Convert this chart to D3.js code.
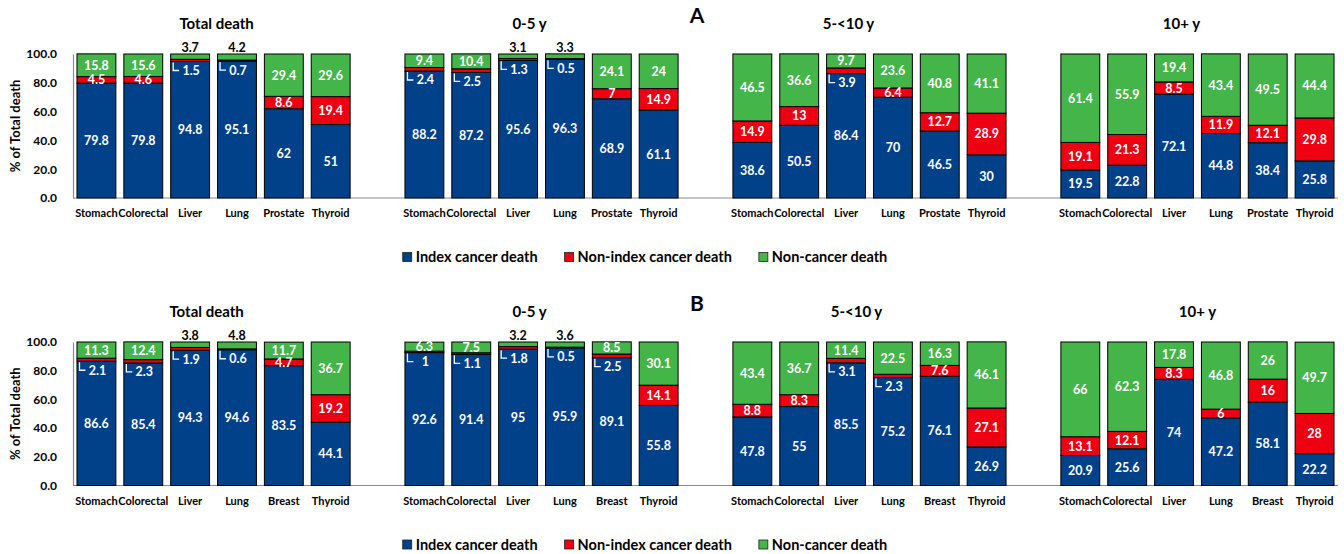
<!DOCTYPE html>
<html>
<head>
<meta charset="utf-8">
<script src="https://cdn.jsdelivr.net/npm/d3@7"></script>
<style>
  body { margin: 0; background: #fff; }
  text { font-family: Lato, "Open Sans", sans-serif; font-weight: bold; }
</style>
</head>
<body>
<svg id="chart" width="1344" height="554"></svg>
<script>
// Data
const groups = ["Total death", "0-5 y", "5-<10 y", "10+ y"];
const seriesNames = ["Index cancer death", "Non-index cancer death", "Non-cancer death"];
const cancersA = ["Stomach", "Colorectal", "Liver", "Lung", "Prostate", "Thyroid"];
const cancersB = ["Stomach", "Colorectal", "Liver", "Lung", "Breast", "Thyroid"];
const yTicks = [0, 20, 40, 60, 80, 100];

// panel A: one row per group, one value per cancer
const indexA     = [[79.8, 79.8, 94.8, 95.1, 62, 51], [88.2, 87.2, 95.6, 96.3, 68.9, 61.1], [38.6, 50.5, 86.4, 70, 46.5, 30], [19.5, 22.8, 72.1, 44.8, 38.4, 25.8]];
const nonIndexA  = [[4.5, 4.6, 1.5, 0.7, 8.6, 19.4], [2.4, 2.5, 1.3, 0.5, 7, 14.9], [14.9, 13, 3.9, 6.4, 12.7, 28.9], [19.1, 21.3, 8.5, 11.9, 12.1, 29.8]];
const nonCancerA = [[15.8, 15.6, 3.7, 4.2, 29.4, 29.6], [9.4, 10.4, 3.1, 3.3, 24.1, 24], [46.5, 36.6, 9.7, 23.6, 40.8, 41.1], [61.4, 55.9, 19.4, 43.4, 49.5, 44.4]];

// panel B
const indexB     = [[86.6, 85.4, 94.3, 94.6, 83.5, 44.1], [92.6, 91.4, 95, 95.9, 89.1, 55.8], [47.8, 55, 85.5, 75.2, 76.1, 26.9], [20.9, 25.6, 74, 47.2, 58.1, 22.2]];
const nonIndexB  = [[2.1, 2.3, 1.9, 0.6, 4.7, 19.2], [1, 1.1, 1.8, 0.5, 2.5, 14.1], [8.8, 8.3, 3.1, 2.3, 7.6, 27.1], [13.1, 12.1, 8.3, 6, 16, 28]];
const nonCancerB = [[11.3, 12.4, 3.8, 4.8, 11.7, 36.7], [6.3, 7.5, 3.2, 3.6, 8.5, 30.1], [43.4, 36.7, 11.4, 22.5, 16.3, 46.1], [66, 62.3, 17.8, 46.8, 26, 49.7]];

const colors = ["#01418A", "#EE0012", "#44B549"];

const svg = d3.select("#chart");

const panels = [
  { letter: "A", cats: cancersA, series: [indexA, nonIndexA, nonCancerA], top: 54, bottom: 198, titleShift: [3, -12, -21, -16] },
  { letter: "B", cats: cancersB, series: [indexB, nonIndexB, nonCancerB], top: 342, bottom: 485.5, titleShift: [-7, -12, -13, 0] }
];

// slot keys: 6 bars per group with one empty slot between groups
const slots = [];
groups.forEach((g, gi) => {
  if (gi > 0) slots.push("gap" + gi);
  for (let i = 0; i < 6; i++) slots.push(gi + "|" + i);
});

const x = d3.scaleBand()
  .domain(slots)
  .range([73, 1338])
  .paddingInner(0.17)
  .paddingOuter(0.085);

panels.forEach(p => {
  const g = svg.append("g");

  const y = d3.scaleLinear().domain([0, 100]).range([p.bottom, p.top]);

  const rows = [];
  groups.forEach((gr, gi) => {
    p.cats.forEach((c, i) => {
      rows.push({ key: gi + "|" + i, cat: c, vals: p.series.map(s => s[gi][i]) });
    });
  });

  const stack = d3.stack()
    .keys([0, 1, 2])
    .value((d, k) => d.vals[k]);
  const layers = stack(rows);

  // Y axis
  const yAxis = g.append("g")
    .attr("transform", "translate(" + x.range()[0] + ",0)")
    .call(d3.axisLeft(y).tickValues(yTicks).tickFormat(d3.format(".1f")).tickSize(0).tickPadding(16));
  yAxis.select(".domain").attr("stroke", "#8a8a8a").attr("stroke-width", 1.2);
  yAxis.selectAll("text").attr("font-size", 12).attr("fill", "#000")
    .style("font-family", "Lato, sans-serif").style("font-weight", "bold");

  // baseline
  g.append("line")
    .attr("x1", x.range()[0]).attr("x2", x.range()[1])
    .attr("y1", y(0)).attr("y2", y(0))
    .attr("stroke", "#8a8a8a").attr("stroke-width", 1.2);

  // axis title
  g.append("text")
    .attr("transform", "translate(20," + (p.top + p.bottom) / 2 + ") rotate(-90)")
    .attr("text-anchor", "middle")
    .attr("font-size", 13)
    .text("% of Total death");

  // bars
  layers.forEach((layer, k) => {
    g.append("g").selectAll("rect")
      .data(layer)
      .join("rect")
      .attr("x", d => x(d.data.key))
      .attr("width", x.bandwidth())
      .attr("y", d => y(d[1]))
      .attr("height", d => y(d[0]) - y(d[1]))
      .attr("fill", colors[k])
      .attr("stroke", "#000")
      .attr("stroke-width", 1);
  });

  // data labels
  layers.forEach((layer, k) => {
    layer.forEach(d => {
      const v = d.data.vals[k];
      const cx = x(d.data.key) + x.bandwidth() / 2;
      const left = x(d.data.key);
      if (k === 1 && v < 4) {
        const ly = y(d[0]) + 9;
        g.append("path")
          .attr("d", "M" + (left + 2.5) + "," + (y(d[0]) + 1) + "V" + ly + "H" + (cx - 11))
          .attr("fill", "none").attr("stroke", "#fff").attr("stroke-width", 1.3);
        g.append("text")
          .attr("x", cx + 1).attr("y", ly)
          .attr("dy", "0.36em")
          .attr("text-anchor", "middle")
          .attr("font-size", 12.5).attr("fill", "#fff")
          .text(v);
      } else if (k === 2 && v < 5) {
        g.append("text")
          .attr("x", cx).attr("y", y(d[1]) - 2)
          .attr("text-anchor", "middle")
          .attr("font-size", 12.5).attr("fill", "#000")
          .text(v);
      } else {
        g.append("text")
          .attr("x", cx).attr("y", (y(d[0]) + y(d[1])) / 2)
          .attr("dy", "0.36em")
          .attr("text-anchor", "middle")
          .attr("font-size", 12.5).attr("fill", "#fff")
          .text(v);
      }
    });
  });

  // category labels
  g.append("g").selectAll("text")
    .data(rows)
    .join("text")
    .attr("x", d => x(d.key) + x.bandwidth() / 2)
    .attr("y", y(0) + 19)
    .attr("text-anchor", "middle")
    .attr("font-size", 11)
    .text(d => d.cat);

  // group titles
  groups.forEach((gr, gi) => {
    const first = x(gi + "|0");
    const last = x(gi + "|5") + x.bandwidth();
    g.append("text")
      .attr("x", (first + last) / 2 + p.titleShift[gi])
      .attr("y", p.top - 25)
      .attr("text-anchor", "middle")
      .attr("font-size", 15)
      .text(gr);
  });

  // panel letter
  g.append("text")
    .attr("x", 697).attr("y", p.top - 31)
    .attr("text-anchor", "middle")
    .attr("font-size", 21)
    .text(p.letter);

  // legend
  const leg = g.append("g").attr("transform", "translate(0," + (p.bottom + 59) + ")");
  const items = seriesNames.map((name, k) => {
    const it = leg.append("g");
    it.append("rect").attr("x", 0).attr("y", -4.5).attr("width", 9).attr("height", 9)
      .attr("fill", colors[k]).attr("stroke", "#222").attr("stroke-width", 0.8);
    const t = it.append("text").attr("x", 13).attr("dy", "0.36em").attr("font-size", 14.5).text(name);
    return { it, w: 13 + t.node().getComputedTextLength() };
  });
  const gap = 27;
  const total = d3.sum(items, d => d.w) + gap * (items.length - 1);
  let cur = 645 - total / 2;
  items.forEach(d => {
    d.it.attr("transform", "translate(" + cur + ",0)");
    cur += d.w + gap;
  });
});
</script>
</body>
</html>
